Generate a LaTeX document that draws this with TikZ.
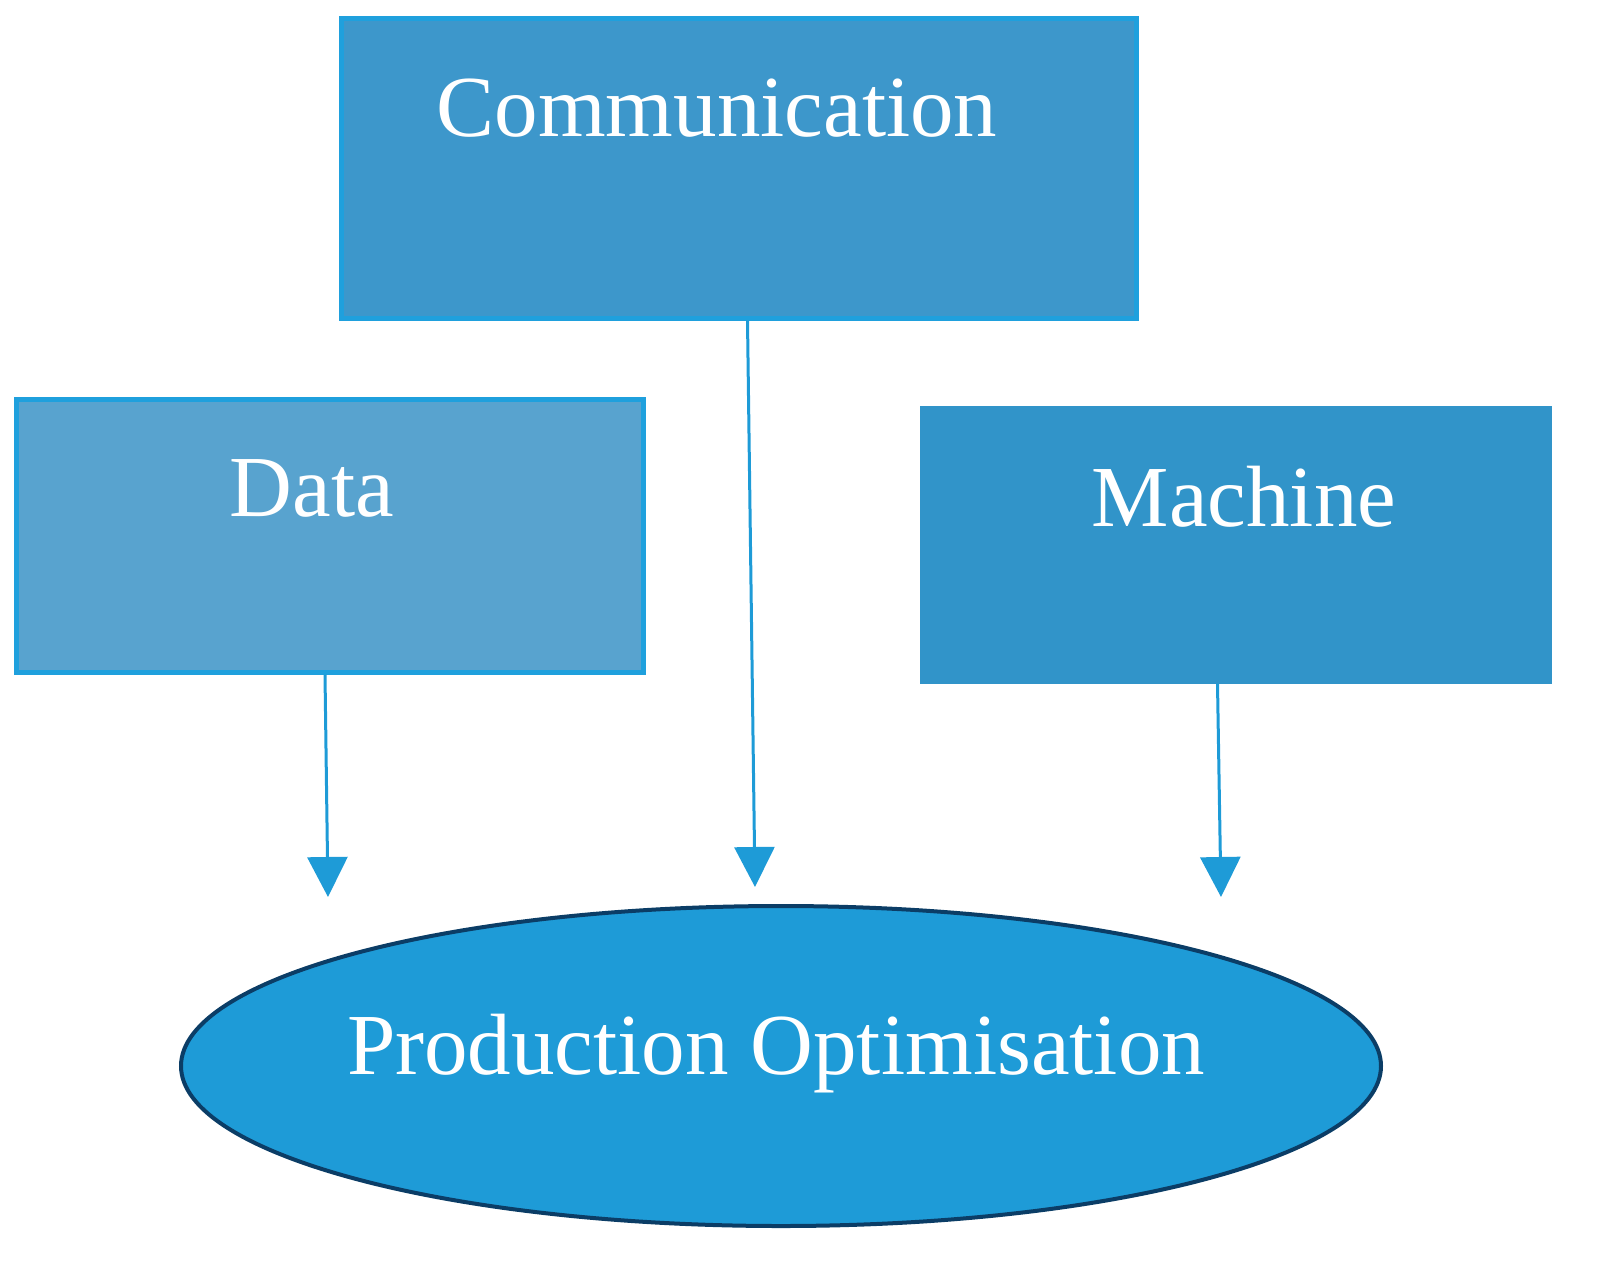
\documentclass[tikz,border=0pt]{standalone}
\usepackage{fontspec}
\setmainfont{Liberation Serif}
\usetikzlibrary{shapes.geometric,arrows.meta}
\definecolor{edge}{HTML}{1FA0DD}
\definecolor{ell}{HTML}{1E9BD7}
\definecolor{ellb}{HTML}{0B3D66}
\begin{document}
\begin{tikzpicture}[x=0.5pt,y=-0.5pt,
  box/.style={draw=edge,line width=2.5pt,minimum width=#1,inner sep=0pt},
  lbl/.style={text=white,font=\fontsize{43.5}{50}\selectfont},
  arr/.style={draw=ell,line width=1.5pt,-{Triangle[length=20pt,width=20pt]}}]
\useasboundingbox (0,0) rectangle (1602,1271);
\node[box=397.5pt,minimum height=150pt,fill={rgb,255:red,61;green,151;blue,203}] (comm) at (738.5,168) {};
\node[box=313.5pt,minimum height=136.5pt,fill={rgb,255:red,88;green,163;blue,207}] (data) at (329.5,535.5) {};
\node[box=313.5pt,minimum height=136.5pt,fill={rgb,255:red,49;green,148;blue,201},draw={rgb,255:red,49;green,148;blue,201}] (mach) at (1235.5,544.5) {};
\node[ellipse,draw=ellb,line width=2pt,fill=ell,minimum width=600pt,minimum height=160pt,inner sep=0pt] (po) at (781,1066) {};
\node[lbl] (tc) at (717,108) {Communication};
\node[lbl] (td) at (312,488) {Data};
\node[lbl] (tm) at (1244,497) {Machine};
\node[lbl] (tp) at (776,1054) {Production Optimisation};
\coordinate (a1) at (328,897);
\coordinate (a2) at (755,887);
\coordinate (a3) at (1221,897);
\draw[arr] ([xshift=-2.25pt]data.south) -- (a1);
\draw[arr] ([xshift=4.5pt]comm.south) -- (a2);
\draw[arr] ([xshift=-9pt]mach.south) -- (a3);
\end{tikzpicture}
\end{document}
